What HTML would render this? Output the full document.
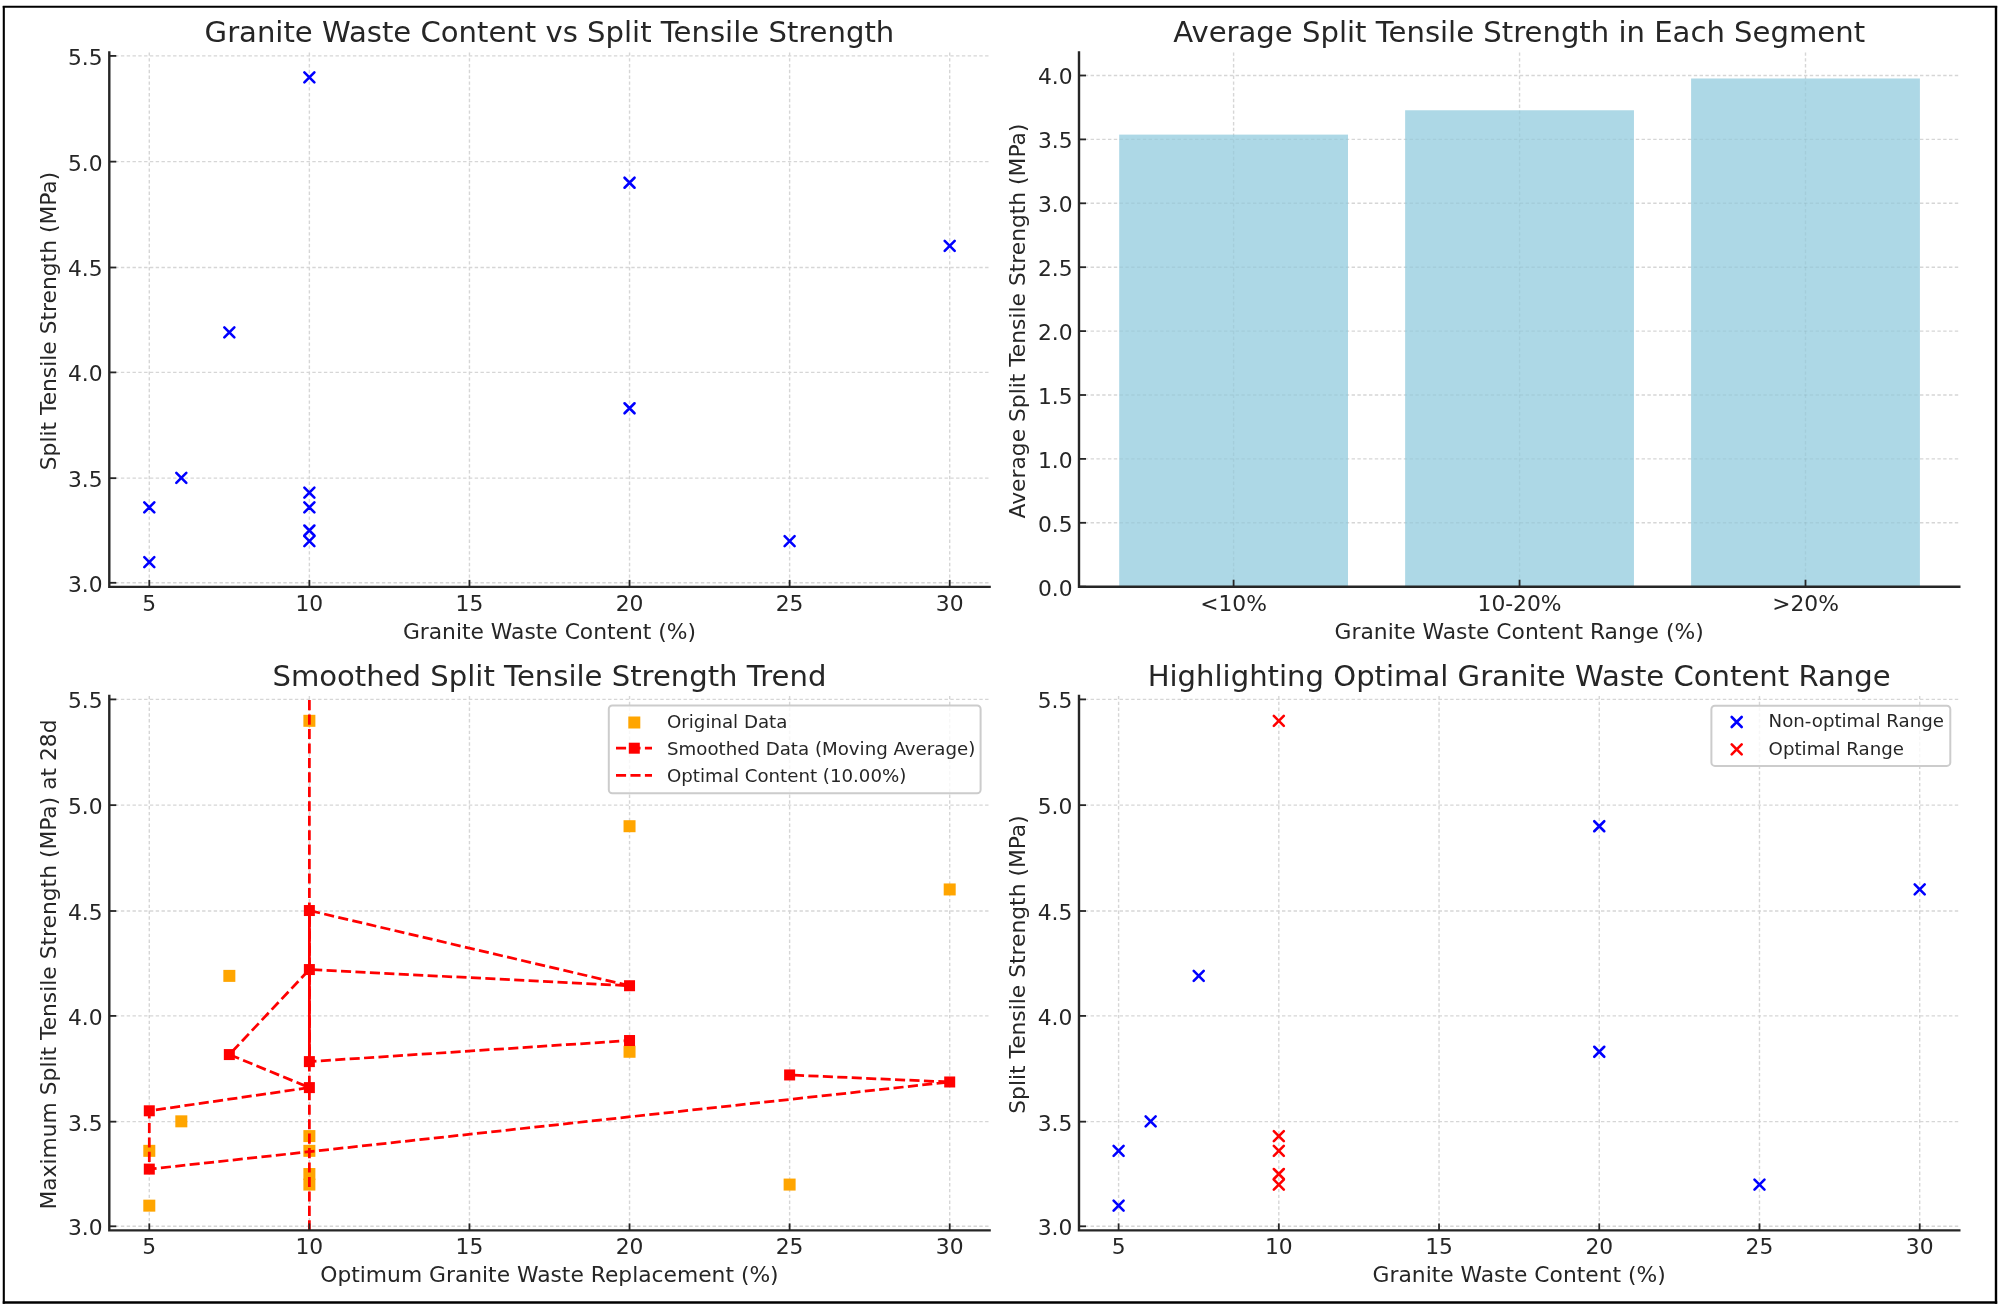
<!DOCTYPE html>
<html><head><meta charset="utf-8"><title>Granite Waste Content Charts</title>
<style>html,body{margin:0;padding:0;background:#fff;}body{width:2000px;height:1310px;overflow:hidden;}svg{display:block;filter:blur(0.45px);}text{font-family:'DejaVu Sans', 'Liberation Sans', sans-serif;}</style>
</head><body>
<svg width="2000" height="1310" viewBox="0 0 2000 1310" font-family="'DejaVu Sans', 'Liberation Sans', sans-serif" fill="#262626">
<line x1="149.3" y1="52.4" x2="149.3" y2="586.9" stroke="#d6d6d6" stroke-width="1.4" stroke-linecap="butt" stroke-dasharray="3.4 2.4"/>
<line x1="309.38" y1="52.4" x2="309.38" y2="586.9" stroke="#d6d6d6" stroke-width="1.4" stroke-linecap="butt" stroke-dasharray="3.4 2.4"/>
<line x1="469.46" y1="52.4" x2="469.46" y2="586.9" stroke="#d6d6d6" stroke-width="1.4" stroke-linecap="butt" stroke-dasharray="3.4 2.4"/>
<line x1="629.54" y1="52.4" x2="629.54" y2="586.9" stroke="#d6d6d6" stroke-width="1.4" stroke-linecap="butt" stroke-dasharray="3.4 2.4"/>
<line x1="789.62" y1="52.4" x2="789.62" y2="586.9" stroke="#d6d6d6" stroke-width="1.4" stroke-linecap="butt" stroke-dasharray="3.4 2.4"/>
<line x1="949.7" y1="52.4" x2="949.7" y2="586.9" stroke="#d6d6d6" stroke-width="1.4" stroke-linecap="butt" stroke-dasharray="3.4 2.4"/>
<line x1="109.3" y1="582.8" x2="989.6" y2="582.8" stroke="#d6d6d6" stroke-width="1.4" stroke-linecap="butt" stroke-dasharray="3.4 2.4"/>
<line x1="109.3" y1="478.17" x2="989.6" y2="478.17" stroke="#d6d6d6" stroke-width="1.4" stroke-linecap="butt" stroke-dasharray="3.4 2.4"/>
<line x1="109.3" y1="372.4" x2="989.6" y2="372.4" stroke="#d6d6d6" stroke-width="1.4" stroke-linecap="butt" stroke-dasharray="3.4 2.4"/>
<line x1="109.3" y1="267.5" x2="989.6" y2="267.5" stroke="#d6d6d6" stroke-width="1.4" stroke-linecap="butt" stroke-dasharray="3.4 2.4"/>
<line x1="109.3" y1="161.64" x2="989.6" y2="161.64" stroke="#d6d6d6" stroke-width="1.4" stroke-linecap="butt" stroke-dasharray="3.4 2.4"/>
<line x1="109.3" y1="55.9" x2="989.6" y2="55.9" stroke="#d6d6d6" stroke-width="1.4" stroke-linecap="butt" stroke-dasharray="3.4 2.4"/>
<path d="M784.62 536.07L794.62 546.07M784.62 546.07L794.62 536.07" stroke="#0000ff" stroke-width="2.6" stroke-linecap="round" fill="none"/>
<path d="M944.7 240.95L954.7 250.95M944.7 250.95L954.7 240.95" stroke="#0000ff" stroke-width="2.6" stroke-linecap="round" fill="none"/>
<path d="M144.3 502.34L154.3 512.34M144.3 512.34L154.3 502.34" stroke="#0000ff" stroke-width="2.6" stroke-linecap="round" fill="none"/>
<path d="M144.3 557.15L154.3 567.15M144.3 567.15L154.3 557.15" stroke="#0000ff" stroke-width="2.6" stroke-linecap="round" fill="none"/>
<path d="M304.38 502.34L314.38 512.34M304.38 512.34L314.38 502.34" stroke="#0000ff" stroke-width="2.6" stroke-linecap="round" fill="none"/>
<path d="M224.34 327.38L234.34 337.38M224.34 337.38L234.34 327.38" stroke="#0000ff" stroke-width="2.6" stroke-linecap="round" fill="none"/>
<path d="M304.38 487.59L314.38 497.59M304.38 497.59L314.38 487.59" stroke="#0000ff" stroke-width="2.6" stroke-linecap="round" fill="none"/>
<path d="M624.54 403.27L634.54 413.27M624.54 413.27L634.54 403.27" stroke="#0000ff" stroke-width="2.6" stroke-linecap="round" fill="none"/>
<path d="M304.38 72.31L314.38 82.31M304.38 82.31L314.38 72.31" stroke="#0000ff" stroke-width="2.6" stroke-linecap="round" fill="none"/>
<path d="M304.38 536.07L314.38 546.07M304.38 546.07L314.38 536.07" stroke="#0000ff" stroke-width="2.6" stroke-linecap="round" fill="none"/>
<path d="M624.54 177.71L634.54 187.71M624.54 187.71L634.54 177.71" stroke="#0000ff" stroke-width="2.6" stroke-linecap="round" fill="none"/>
<path d="M304.38 525.53L314.38 535.53M304.38 535.53L314.38 525.53" stroke="#0000ff" stroke-width="2.6" stroke-linecap="round" fill="none"/>
<path d="M176.32 472.83L186.32 482.83M176.32 482.83L186.32 472.83" stroke="#0000ff" stroke-width="2.6" stroke-linecap="round" fill="none"/>
<line x1="149.3" y1="586.9" x2="149.3" y2="579.9" stroke="#262626" stroke-width="1.8" stroke-linecap="butt"/>
<line x1="309.38" y1="586.9" x2="309.38" y2="579.9" stroke="#262626" stroke-width="1.8" stroke-linecap="butt"/>
<line x1="469.46" y1="586.9" x2="469.46" y2="579.9" stroke="#262626" stroke-width="1.8" stroke-linecap="butt"/>
<line x1="629.54" y1="586.9" x2="629.54" y2="579.9" stroke="#262626" stroke-width="1.8" stroke-linecap="butt"/>
<line x1="789.62" y1="586.9" x2="789.62" y2="579.9" stroke="#262626" stroke-width="1.8" stroke-linecap="butt"/>
<line x1="949.7" y1="586.9" x2="949.7" y2="579.9" stroke="#262626" stroke-width="1.8" stroke-linecap="butt"/>
<line x1="109.3" y1="582.8" x2="116.3" y2="582.8" stroke="#262626" stroke-width="1.8" stroke-linecap="butt"/>
<line x1="109.3" y1="478.17" x2="116.3" y2="478.17" stroke="#262626" stroke-width="1.8" stroke-linecap="butt"/>
<line x1="109.3" y1="372.4" x2="116.3" y2="372.4" stroke="#262626" stroke-width="1.8" stroke-linecap="butt"/>
<line x1="109.3" y1="267.5" x2="116.3" y2="267.5" stroke="#262626" stroke-width="1.8" stroke-linecap="butt"/>
<line x1="109.3" y1="161.64" x2="116.3" y2="161.64" stroke="#262626" stroke-width="1.8" stroke-linecap="butt"/>
<line x1="109.3" y1="55.9" x2="116.3" y2="55.9" stroke="#262626" stroke-width="1.8" stroke-linecap="butt"/>
<path d="M109.3 52.4V586.9H989.6" fill="none" stroke="#262626" stroke-width="2.4" stroke-linecap="square" stroke-linejoin="miter"/>
<text x="149.3" y="610.5" font-size="21.8" text-anchor="middle">5</text>
<text x="309.38" y="610.5" font-size="21.8" text-anchor="middle">10</text>
<text x="469.46" y="610.5" font-size="21.8" text-anchor="middle">15</text>
<text x="629.54" y="610.5" font-size="21.8" text-anchor="middle">20</text>
<text x="789.62" y="610.5" font-size="21.8" text-anchor="middle">25</text>
<text x="949.7" y="610.5" font-size="21.8" text-anchor="middle">30</text>
<text x="102.6" y="591.7" font-size="21.8" text-anchor="end">3.0</text>
<text x="102.6" y="487.07" font-size="21.8" text-anchor="end">3.5</text>
<text x="102.6" y="381.3" font-size="21.8" text-anchor="end">4.0</text>
<text x="102.6" y="276.4" font-size="21.8" text-anchor="end">4.5</text>
<text x="102.6" y="170.54" font-size="21.8" text-anchor="end">5.0</text>
<text x="102.6" y="64.8" font-size="21.8" text-anchor="end">5.5</text>
<text x="549.45" y="42.1" font-size="29.1" text-anchor="middle">Granite Waste Content vs Split Tensile Strength</text>
<text x="549.45" y="638.7" font-size="21.8" text-anchor="middle">Granite Waste Content (%)</text>
<text x="55.6" y="321" font-size="21.8" text-anchor="middle" transform="rotate(-90 55.6 321)">Split Tensile Strength (MPa)</text>
<line x1="1233.6" y1="52.4" x2="1233.6" y2="586.7" stroke="#d6d6d6" stroke-width="1.4" stroke-linecap="butt" stroke-dasharray="3.4 2.4"/>
<line x1="1519.55" y1="52.4" x2="1519.55" y2="586.7" stroke="#d6d6d6" stroke-width="1.4" stroke-linecap="butt" stroke-dasharray="3.4 2.4"/>
<line x1="1805.5" y1="52.4" x2="1805.5" y2="586.7" stroke="#d6d6d6" stroke-width="1.4" stroke-linecap="butt" stroke-dasharray="3.4 2.4"/>
<line x1="1079" y1="586.7" x2="1959.3" y2="586.7" stroke="#d6d6d6" stroke-width="1.4" stroke-linecap="butt" stroke-dasharray="3.4 2.4"/>
<line x1="1079" y1="522.8" x2="1959.3" y2="522.8" stroke="#d6d6d6" stroke-width="1.4" stroke-linecap="butt" stroke-dasharray="3.4 2.4"/>
<line x1="1079" y1="458.9" x2="1959.3" y2="458.9" stroke="#d6d6d6" stroke-width="1.4" stroke-linecap="butt" stroke-dasharray="3.4 2.4"/>
<line x1="1079" y1="395" x2="1959.3" y2="395" stroke="#d6d6d6" stroke-width="1.4" stroke-linecap="butt" stroke-dasharray="3.4 2.4"/>
<line x1="1079" y1="331.1" x2="1959.3" y2="331.1" stroke="#d6d6d6" stroke-width="1.4" stroke-linecap="butt" stroke-dasharray="3.4 2.4"/>
<line x1="1079" y1="267.2" x2="1959.3" y2="267.2" stroke="#d6d6d6" stroke-width="1.4" stroke-linecap="butt" stroke-dasharray="3.4 2.4"/>
<line x1="1079" y1="203.3" x2="1959.3" y2="203.3" stroke="#d6d6d6" stroke-width="1.4" stroke-linecap="butt" stroke-dasharray="3.4 2.4"/>
<line x1="1079" y1="139.4" x2="1959.3" y2="139.4" stroke="#d6d6d6" stroke-width="1.4" stroke-linecap="butt" stroke-dasharray="3.4 2.4"/>
<line x1="1079" y1="75.5" x2="1959.3" y2="75.5" stroke="#d6d6d6" stroke-width="1.4" stroke-linecap="butt" stroke-dasharray="3.4 2.4"/>
<g fill="#add8e6"><rect x="1119.2" y="134.61" width="228.8" height="452.09"/><rect x="1405.15" y="110.26" width="228.8" height="476.44"/><rect x="1691.1" y="78.48" width="228.8" height="508.22"/></g>
<clipPath id="barclip"><rect x="1119.2" y="134.61" width="228.8" height="452.09"/><rect x="1405.15" y="110.26" width="228.8" height="476.44"/><rect x="1691.1" y="78.48" width="228.8" height="508.22"/></clipPath>
<g clip-path="url(#barclip)">
<line x1="1233.6" y1="52.4" x2="1233.6" y2="586.7" stroke="#000000" stroke-opacity="0.05" stroke-width="1.4" stroke-linecap="butt" stroke-dasharray="3.4 2.4"/>
<line x1="1519.55" y1="52.4" x2="1519.55" y2="586.7" stroke="#000000" stroke-opacity="0.05" stroke-width="1.4" stroke-linecap="butt" stroke-dasharray="3.4 2.4"/>
<line x1="1805.5" y1="52.4" x2="1805.5" y2="586.7" stroke="#000000" stroke-opacity="0.05" stroke-width="1.4" stroke-linecap="butt" stroke-dasharray="3.4 2.4"/>
<line x1="1079" y1="586.7" x2="1959.3" y2="586.7" stroke="#000000" stroke-opacity="0.05" stroke-width="1.4" stroke-linecap="butt" stroke-dasharray="3.4 2.4"/>
<line x1="1079" y1="522.8" x2="1959.3" y2="522.8" stroke="#000000" stroke-opacity="0.05" stroke-width="1.4" stroke-linecap="butt" stroke-dasharray="3.4 2.4"/>
<line x1="1079" y1="458.9" x2="1959.3" y2="458.9" stroke="#000000" stroke-opacity="0.05" stroke-width="1.4" stroke-linecap="butt" stroke-dasharray="3.4 2.4"/>
<line x1="1079" y1="395" x2="1959.3" y2="395" stroke="#000000" stroke-opacity="0.05" stroke-width="1.4" stroke-linecap="butt" stroke-dasharray="3.4 2.4"/>
<line x1="1079" y1="331.1" x2="1959.3" y2="331.1" stroke="#000000" stroke-opacity="0.05" stroke-width="1.4" stroke-linecap="butt" stroke-dasharray="3.4 2.4"/>
<line x1="1079" y1="267.2" x2="1959.3" y2="267.2" stroke="#000000" stroke-opacity="0.05" stroke-width="1.4" stroke-linecap="butt" stroke-dasharray="3.4 2.4"/>
<line x1="1079" y1="203.3" x2="1959.3" y2="203.3" stroke="#000000" stroke-opacity="0.05" stroke-width="1.4" stroke-linecap="butt" stroke-dasharray="3.4 2.4"/>
<line x1="1079" y1="139.4" x2="1959.3" y2="139.4" stroke="#000000" stroke-opacity="0.05" stroke-width="1.4" stroke-linecap="butt" stroke-dasharray="3.4 2.4"/>
<line x1="1079" y1="75.5" x2="1959.3" y2="75.5" stroke="#000000" stroke-opacity="0.05" stroke-width="1.4" stroke-linecap="butt" stroke-dasharray="3.4 2.4"/>
</g>
<line x1="1233.6" y1="586.7" x2="1233.6" y2="579.7" stroke="#262626" stroke-width="1.8" stroke-linecap="butt"/>
<line x1="1519.55" y1="586.7" x2="1519.55" y2="579.7" stroke="#262626" stroke-width="1.8" stroke-linecap="butt"/>
<line x1="1805.5" y1="586.7" x2="1805.5" y2="579.7" stroke="#262626" stroke-width="1.8" stroke-linecap="butt"/>
<line x1="1079" y1="586.7" x2="1086" y2="586.7" stroke="#262626" stroke-width="1.8" stroke-linecap="butt"/>
<line x1="1079" y1="522.8" x2="1086" y2="522.8" stroke="#262626" stroke-width="1.8" stroke-linecap="butt"/>
<line x1="1079" y1="458.9" x2="1086" y2="458.9" stroke="#262626" stroke-width="1.8" stroke-linecap="butt"/>
<line x1="1079" y1="395" x2="1086" y2="395" stroke="#262626" stroke-width="1.8" stroke-linecap="butt"/>
<line x1="1079" y1="331.1" x2="1086" y2="331.1" stroke="#262626" stroke-width="1.8" stroke-linecap="butt"/>
<line x1="1079" y1="267.2" x2="1086" y2="267.2" stroke="#262626" stroke-width="1.8" stroke-linecap="butt"/>
<line x1="1079" y1="203.3" x2="1086" y2="203.3" stroke="#262626" stroke-width="1.8" stroke-linecap="butt"/>
<line x1="1079" y1="139.4" x2="1086" y2="139.4" stroke="#262626" stroke-width="1.8" stroke-linecap="butt"/>
<line x1="1079" y1="75.5" x2="1086" y2="75.5" stroke="#262626" stroke-width="1.8" stroke-linecap="butt"/>
<path d="M1079 52.4V586.7H1959.3" fill="none" stroke="#262626" stroke-width="2.4" stroke-linecap="square" stroke-linejoin="miter"/>
<text x="1233.6" y="610.5" font-size="21.8" text-anchor="middle">&lt;10%</text>
<text x="1519.55" y="610.5" font-size="21.8" text-anchor="middle">10-20%</text>
<text x="1805.5" y="610.5" font-size="21.8" text-anchor="middle">&gt;20%</text>
<text x="1072.6" y="595.6" font-size="21.8" text-anchor="end">0.0</text>
<text x="1072.6" y="531.7" font-size="21.8" text-anchor="end">0.5</text>
<text x="1072.6" y="467.8" font-size="21.8" text-anchor="end">1.0</text>
<text x="1072.6" y="403.9" font-size="21.8" text-anchor="end">1.5</text>
<text x="1072.6" y="340" font-size="21.8" text-anchor="end">2.0</text>
<text x="1072.6" y="276.1" font-size="21.8" text-anchor="end">2.5</text>
<text x="1072.6" y="212.2" font-size="21.8" text-anchor="end">3.0</text>
<text x="1072.6" y="148.3" font-size="21.8" text-anchor="end">3.5</text>
<text x="1072.6" y="84.4" font-size="21.8" text-anchor="end">4.0</text>
<text x="1519.15" y="42.1" font-size="29.1" text-anchor="middle">Average Split Tensile Strength in Each Segment</text>
<text x="1519.15" y="638.7" font-size="21.8" text-anchor="middle">Granite Waste Content Range (%)</text>
<text x="1025.3" y="321" font-size="21.8" text-anchor="middle" transform="rotate(-90 1025.3 321)">Average Split Tensile Strength (MPa)</text>
<line x1="149.3" y1="695.9" x2="149.3" y2="1230.4" stroke="#d6d6d6" stroke-width="1.4" stroke-linecap="butt" stroke-dasharray="3.4 2.4"/>
<line x1="309.38" y1="695.9" x2="309.38" y2="1230.4" stroke="#d6d6d6" stroke-width="1.4" stroke-linecap="butt" stroke-dasharray="3.4 2.4"/>
<line x1="469.46" y1="695.9" x2="469.46" y2="1230.4" stroke="#d6d6d6" stroke-width="1.4" stroke-linecap="butt" stroke-dasharray="3.4 2.4"/>
<line x1="629.54" y1="695.9" x2="629.54" y2="1230.4" stroke="#d6d6d6" stroke-width="1.4" stroke-linecap="butt" stroke-dasharray="3.4 2.4"/>
<line x1="789.62" y1="695.9" x2="789.62" y2="1230.4" stroke="#d6d6d6" stroke-width="1.4" stroke-linecap="butt" stroke-dasharray="3.4 2.4"/>
<line x1="949.7" y1="695.9" x2="949.7" y2="1230.4" stroke="#d6d6d6" stroke-width="1.4" stroke-linecap="butt" stroke-dasharray="3.4 2.4"/>
<line x1="109.3" y1="1226.3" x2="989.6" y2="1226.3" stroke="#d6d6d6" stroke-width="1.4" stroke-linecap="butt" stroke-dasharray="3.4 2.4"/>
<line x1="109.3" y1="1121.67" x2="989.6" y2="1121.67" stroke="#d6d6d6" stroke-width="1.4" stroke-linecap="butt" stroke-dasharray="3.4 2.4"/>
<line x1="109.3" y1="1015.9" x2="989.6" y2="1015.9" stroke="#d6d6d6" stroke-width="1.4" stroke-linecap="butt" stroke-dasharray="3.4 2.4"/>
<line x1="109.3" y1="911" x2="989.6" y2="911" stroke="#d6d6d6" stroke-width="1.4" stroke-linecap="butt" stroke-dasharray="3.4 2.4"/>
<line x1="109.3" y1="805.14" x2="989.6" y2="805.14" stroke="#d6d6d6" stroke-width="1.4" stroke-linecap="butt" stroke-dasharray="3.4 2.4"/>
<line x1="109.3" y1="699.4" x2="989.6" y2="699.4" stroke="#d6d6d6" stroke-width="1.4" stroke-linecap="butt" stroke-dasharray="3.4 2.4"/>
<rect x="783.62" y="1178.57" width="12" height="12" fill="#ffa500"/>
<rect x="943.7" y="883.45" width="12" height="12" fill="#ffa500"/>
<rect x="143.3" y="1144.84" width="12" height="12" fill="#ffa500"/>
<rect x="143.3" y="1199.65" width="12" height="12" fill="#ffa500"/>
<rect x="303.38" y="1144.84" width="12" height="12" fill="#ffa500"/>
<rect x="223.34" y="969.88" width="12" height="12" fill="#ffa500"/>
<rect x="303.38" y="1130.09" width="12" height="12" fill="#ffa500"/>
<rect x="623.54" y="1045.77" width="12" height="12" fill="#ffa500"/>
<rect x="303.38" y="714.81" width="12" height="12" fill="#ffa500"/>
<rect x="303.38" y="1178.57" width="12" height="12" fill="#ffa500"/>
<rect x="623.54" y="820.21" width="12" height="12" fill="#ffa500"/>
<rect x="303.38" y="1168.03" width="12" height="12" fill="#ffa500"/>
<rect x="175.32" y="1115.33" width="12" height="12" fill="#ffa500"/>
<polyline points="789.62,1074.95 949.7,1081.98 149.3,1169.11 149.3,1110.79 309.38,1087.6 229.34,1054.58 309.38,969.55 629.54,985.72 309.38,910.53 309.38,1061.6 629.54,1040.52" fill="none" stroke="#ff0000" stroke-width="2.75" stroke-dasharray="10.09 4.36" stroke-dashoffset="10.09" stroke-linejoin="round"/>
<rect x="784.12" y="1069.45" width="11" height="11" fill="#ff0000"/>
<rect x="944.2" y="1076.48" width="11" height="11" fill="#ff0000"/>
<rect x="143.8" y="1163.61" width="11" height="11" fill="#ff0000"/>
<rect x="143.8" y="1105.29" width="11" height="11" fill="#ff0000"/>
<rect x="303.88" y="1082.1" width="11" height="11" fill="#ff0000"/>
<rect x="223.84" y="1049.08" width="11" height="11" fill="#ff0000"/>
<rect x="303.88" y="964.05" width="11" height="11" fill="#ff0000"/>
<rect x="624.04" y="980.22" width="11" height="11" fill="#ff0000"/>
<rect x="303.88" y="905.03" width="11" height="11" fill="#ff0000"/>
<rect x="303.88" y="1056.1" width="11" height="11" fill="#ff0000"/>
<rect x="624.04" y="1035.02" width="11" height="11" fill="#ff0000"/>
<line x1="309.38" y1="1230.4" x2="309.38" y2="695.9" stroke="#ff0000" stroke-width="2.75" stroke-linecap="butt" stroke-dasharray="10.09 4.36"/>
<line x1="309.38" y1="910.53" x2="309.38" y2="1061.6" stroke="#ff0000" stroke-width="2.75" stroke-linecap="butt"/>
<line x1="149.3" y1="1230.4" x2="149.3" y2="1223.4" stroke="#262626" stroke-width="1.8" stroke-linecap="butt"/>
<line x1="309.38" y1="1230.4" x2="309.38" y2="1223.4" stroke="#262626" stroke-width="1.8" stroke-linecap="butt"/>
<line x1="469.46" y1="1230.4" x2="469.46" y2="1223.4" stroke="#262626" stroke-width="1.8" stroke-linecap="butt"/>
<line x1="629.54" y1="1230.4" x2="629.54" y2="1223.4" stroke="#262626" stroke-width="1.8" stroke-linecap="butt"/>
<line x1="789.62" y1="1230.4" x2="789.62" y2="1223.4" stroke="#262626" stroke-width="1.8" stroke-linecap="butt"/>
<line x1="949.7" y1="1230.4" x2="949.7" y2="1223.4" stroke="#262626" stroke-width="1.8" stroke-linecap="butt"/>
<line x1="109.3" y1="1226.3" x2="116.3" y2="1226.3" stroke="#262626" stroke-width="1.8" stroke-linecap="butt"/>
<line x1="109.3" y1="1121.67" x2="116.3" y2="1121.67" stroke="#262626" stroke-width="1.8" stroke-linecap="butt"/>
<line x1="109.3" y1="1015.9" x2="116.3" y2="1015.9" stroke="#262626" stroke-width="1.8" stroke-linecap="butt"/>
<line x1="109.3" y1="911" x2="116.3" y2="911" stroke="#262626" stroke-width="1.8" stroke-linecap="butt"/>
<line x1="109.3" y1="805.14" x2="116.3" y2="805.14" stroke="#262626" stroke-width="1.8" stroke-linecap="butt"/>
<line x1="109.3" y1="699.4" x2="116.3" y2="699.4" stroke="#262626" stroke-width="1.8" stroke-linecap="butt"/>
<path d="M109.3 695.9V1230.4H989.6" fill="none" stroke="#262626" stroke-width="2.4" stroke-linecap="square" stroke-linejoin="miter"/>
<text x="149.3" y="1254" font-size="21.8" text-anchor="middle">5</text>
<text x="309.38" y="1254" font-size="21.8" text-anchor="middle">10</text>
<text x="469.46" y="1254" font-size="21.8" text-anchor="middle">15</text>
<text x="629.54" y="1254" font-size="21.8" text-anchor="middle">20</text>
<text x="789.62" y="1254" font-size="21.8" text-anchor="middle">25</text>
<text x="949.7" y="1254" font-size="21.8" text-anchor="middle">30</text>
<text x="102.6" y="1235.2" font-size="21.8" text-anchor="end">3.0</text>
<text x="102.6" y="1130.57" font-size="21.8" text-anchor="end">3.5</text>
<text x="102.6" y="1024.8" font-size="21.8" text-anchor="end">4.0</text>
<text x="102.6" y="919.9" font-size="21.8" text-anchor="end">4.5</text>
<text x="102.6" y="814.04" font-size="21.8" text-anchor="end">5.0</text>
<text x="102.6" y="708.3" font-size="21.8" text-anchor="end">5.5</text>
<text x="549.45" y="685.6" font-size="29.1" text-anchor="middle">Smoothed Split Tensile Strength Trend</text>
<text x="549.45" y="1282.2" font-size="21.8" text-anchor="middle">Optimum Granite Waste Replacement (%)</text>
<text x="55.6" y="964.5" font-size="21.8" text-anchor="middle" transform="rotate(-90 55.6 964.5)">Maximum Split Tensile Strength (MPa) at 28d</text>
<line x1="1118.6" y1="695.9" x2="1118.6" y2="1230.4" stroke="#d6d6d6" stroke-width="1.4" stroke-linecap="butt" stroke-dasharray="3.4 2.4"/>
<line x1="1278.82" y1="695.9" x2="1278.82" y2="1230.4" stroke="#d6d6d6" stroke-width="1.4" stroke-linecap="butt" stroke-dasharray="3.4 2.4"/>
<line x1="1439.04" y1="695.9" x2="1439.04" y2="1230.4" stroke="#d6d6d6" stroke-width="1.4" stroke-linecap="butt" stroke-dasharray="3.4 2.4"/>
<line x1="1599.26" y1="695.9" x2="1599.26" y2="1230.4" stroke="#d6d6d6" stroke-width="1.4" stroke-linecap="butt" stroke-dasharray="3.4 2.4"/>
<line x1="1759.48" y1="695.9" x2="1759.48" y2="1230.4" stroke="#d6d6d6" stroke-width="1.4" stroke-linecap="butt" stroke-dasharray="3.4 2.4"/>
<line x1="1919.7" y1="695.9" x2="1919.7" y2="1230.4" stroke="#d6d6d6" stroke-width="1.4" stroke-linecap="butt" stroke-dasharray="3.4 2.4"/>
<line x1="1079" y1="1226.3" x2="1959.3" y2="1226.3" stroke="#d6d6d6" stroke-width="1.4" stroke-linecap="butt" stroke-dasharray="3.4 2.4"/>
<line x1="1079" y1="1121.67" x2="1959.3" y2="1121.67" stroke="#d6d6d6" stroke-width="1.4" stroke-linecap="butt" stroke-dasharray="3.4 2.4"/>
<line x1="1079" y1="1015.9" x2="1959.3" y2="1015.9" stroke="#d6d6d6" stroke-width="1.4" stroke-linecap="butt" stroke-dasharray="3.4 2.4"/>
<line x1="1079" y1="911" x2="1959.3" y2="911" stroke="#d6d6d6" stroke-width="1.4" stroke-linecap="butt" stroke-dasharray="3.4 2.4"/>
<line x1="1079" y1="805.14" x2="1959.3" y2="805.14" stroke="#d6d6d6" stroke-width="1.4" stroke-linecap="butt" stroke-dasharray="3.4 2.4"/>
<line x1="1079" y1="699.4" x2="1959.3" y2="699.4" stroke="#d6d6d6" stroke-width="1.4" stroke-linecap="butt" stroke-dasharray="3.4 2.4"/>
<path d="M1754.48 1179.57L1764.48 1189.57M1754.48 1189.57L1764.48 1179.57" stroke="#0000ff" stroke-width="2.6" stroke-linecap="round" fill="none"/>
<path d="M1914.7 884.45L1924.7 894.45M1914.7 894.45L1924.7 884.45" stroke="#0000ff" stroke-width="2.6" stroke-linecap="round" fill="none"/>
<path d="M1113.6 1145.84L1123.6 1155.84M1113.6 1155.84L1123.6 1145.84" stroke="#0000ff" stroke-width="2.6" stroke-linecap="round" fill="none"/>
<path d="M1113.6 1200.65L1123.6 1210.65M1113.6 1210.65L1123.6 1200.65" stroke="#0000ff" stroke-width="2.6" stroke-linecap="round" fill="none"/>
<path d="M1193.71 970.88L1203.71 980.88M1193.71 980.88L1203.71 970.88" stroke="#0000ff" stroke-width="2.6" stroke-linecap="round" fill="none"/>
<path d="M1594.26 1046.77L1604.26 1056.77M1594.26 1056.77L1604.26 1046.77" stroke="#0000ff" stroke-width="2.6" stroke-linecap="round" fill="none"/>
<path d="M1594.26 821.21L1604.26 831.21M1594.26 831.21L1604.26 821.21" stroke="#0000ff" stroke-width="2.6" stroke-linecap="round" fill="none"/>
<path d="M1145.64 1116.33L1155.64 1126.33M1145.64 1126.33L1155.64 1116.33" stroke="#0000ff" stroke-width="2.6" stroke-linecap="round" fill="none"/>
<path d="M1273.82 1145.84L1283.82 1155.84M1273.82 1155.84L1283.82 1145.84" stroke="#ff0000" stroke-width="2.6" stroke-linecap="round" fill="none"/>
<path d="M1273.82 1131.09L1283.82 1141.09M1273.82 1141.09L1283.82 1131.09" stroke="#ff0000" stroke-width="2.6" stroke-linecap="round" fill="none"/>
<path d="M1273.82 715.81L1283.82 725.81M1273.82 725.81L1283.82 715.81" stroke="#ff0000" stroke-width="2.6" stroke-linecap="round" fill="none"/>
<path d="M1273.82 1179.57L1283.82 1189.57M1273.82 1189.57L1283.82 1179.57" stroke="#ff0000" stroke-width="2.6" stroke-linecap="round" fill="none"/>
<path d="M1273.82 1169.03L1283.82 1179.03M1273.82 1179.03L1283.82 1169.03" stroke="#ff0000" stroke-width="2.6" stroke-linecap="round" fill="none"/>
<line x1="1118.6" y1="1230.4" x2="1118.6" y2="1223.4" stroke="#262626" stroke-width="1.8" stroke-linecap="butt"/>
<line x1="1278.82" y1="1230.4" x2="1278.82" y2="1223.4" stroke="#262626" stroke-width="1.8" stroke-linecap="butt"/>
<line x1="1439.04" y1="1230.4" x2="1439.04" y2="1223.4" stroke="#262626" stroke-width="1.8" stroke-linecap="butt"/>
<line x1="1599.26" y1="1230.4" x2="1599.26" y2="1223.4" stroke="#262626" stroke-width="1.8" stroke-linecap="butt"/>
<line x1="1759.48" y1="1230.4" x2="1759.48" y2="1223.4" stroke="#262626" stroke-width="1.8" stroke-linecap="butt"/>
<line x1="1919.7" y1="1230.4" x2="1919.7" y2="1223.4" stroke="#262626" stroke-width="1.8" stroke-linecap="butt"/>
<line x1="1079" y1="1226.3" x2="1086" y2="1226.3" stroke="#262626" stroke-width="1.8" stroke-linecap="butt"/>
<line x1="1079" y1="1121.67" x2="1086" y2="1121.67" stroke="#262626" stroke-width="1.8" stroke-linecap="butt"/>
<line x1="1079" y1="1015.9" x2="1086" y2="1015.9" stroke="#262626" stroke-width="1.8" stroke-linecap="butt"/>
<line x1="1079" y1="911" x2="1086" y2="911" stroke="#262626" stroke-width="1.8" stroke-linecap="butt"/>
<line x1="1079" y1="805.14" x2="1086" y2="805.14" stroke="#262626" stroke-width="1.8" stroke-linecap="butt"/>
<line x1="1079" y1="699.4" x2="1086" y2="699.4" stroke="#262626" stroke-width="1.8" stroke-linecap="butt"/>
<path d="M1079 695.9V1230.4H1959.3" fill="none" stroke="#262626" stroke-width="2.4" stroke-linecap="square" stroke-linejoin="miter"/>
<text x="1118.6" y="1254" font-size="21.8" text-anchor="middle">5</text>
<text x="1278.82" y="1254" font-size="21.8" text-anchor="middle">10</text>
<text x="1439.04" y="1254" font-size="21.8" text-anchor="middle">15</text>
<text x="1599.26" y="1254" font-size="21.8" text-anchor="middle">20</text>
<text x="1759.48" y="1254" font-size="21.8" text-anchor="middle">25</text>
<text x="1919.7" y="1254" font-size="21.8" text-anchor="middle">30</text>
<text x="1072.3" y="1235.2" font-size="21.8" text-anchor="end">3.0</text>
<text x="1072.3" y="1130.57" font-size="21.8" text-anchor="end">3.5</text>
<text x="1072.3" y="1024.8" font-size="21.8" text-anchor="end">4.0</text>
<text x="1072.3" y="919.9" font-size="21.8" text-anchor="end">4.5</text>
<text x="1072.3" y="814.04" font-size="21.8" text-anchor="end">5.0</text>
<text x="1072.3" y="708.3" font-size="21.8" text-anchor="end">5.5</text>
<text x="1519.15" y="685.6" font-size="29.1" text-anchor="middle">Highlighting Optimal Granite Waste Content Range</text>
<text x="1519.15" y="1282.2" font-size="21.8" text-anchor="middle">Granite Waste Content (%)</text>
<text x="1025.3" y="964.5" font-size="21.8" text-anchor="middle" transform="rotate(-90 1025.3 964.5)">Split Tensile Strength (MPa)</text>
<rect x="608.8" y="705.5" width="371.8" height="87.7" rx="3.5" ry="3.5" fill="#ffffff" fill-opacity="0.8" stroke="#cccccc" stroke-width="2"/>
<rect x="628.3" y="716.5" width="12" height="12" fill="#ffa500"/>
<line x1="616" y1="748.2" x2="652" y2="748.2" stroke="#ff0000" stroke-width="2.75" stroke-linecap="butt" stroke-dasharray="10.09 4.36"/>
<rect x="628.8" y="742.7" width="11" height="11" fill="#ff0000"/>
<line x1="616" y1="775.3" x2="652" y2="775.3" stroke="#ff0000" stroke-width="2.75" stroke-linecap="butt" stroke-dasharray="10.09 4.36"/>
<text x="667" y="727.7" font-size="18.2" text-anchor="start">Original Data</text>
<text x="667" y="755" font-size="18.2" text-anchor="start">Smoothed Data (Moving Average)</text>
<text x="667" y="782.2" font-size="18.2" text-anchor="start">Optimal Content (10.00%)</text>
<rect x="1711.4" y="705.7" width="238.9" height="60.2" rx="3.5" ry="3.5" fill="#ffffff" fill-opacity="0.8" stroke="#cccccc" stroke-width="2"/>
<path d="M1731.7 717L1741.7 727M1731.7 727L1741.7 717" stroke="#0000ff" stroke-width="2.6" stroke-linecap="round" fill="none"/>
<path d="M1731.7 744.4L1741.7 754.4M1731.7 754.4L1741.7 744.4" stroke="#ff0000" stroke-width="2.6" stroke-linecap="round" fill="none"/>
<text x="1768.6" y="726.9" font-size="18.2" text-anchor="start">Non-optimal Range</text>
<text x="1768.6" y="754.8" font-size="18.2" text-anchor="start">Optimal Range</text>
<path d="M2.75 6.8H1997.2" stroke="#000" stroke-width="1.9" fill="none"/>
<path d="M2.75 1302.4H1997.2" stroke="#000" stroke-width="2.5" fill="none"/>
<path d="M3.8 5.9V1303.65" stroke="#000" stroke-width="2.1" fill="none"/>
<path d="M1996.0 5.9V1303.65" stroke="#000" stroke-width="2.4" fill="none"/>
</svg>
</body></html>
